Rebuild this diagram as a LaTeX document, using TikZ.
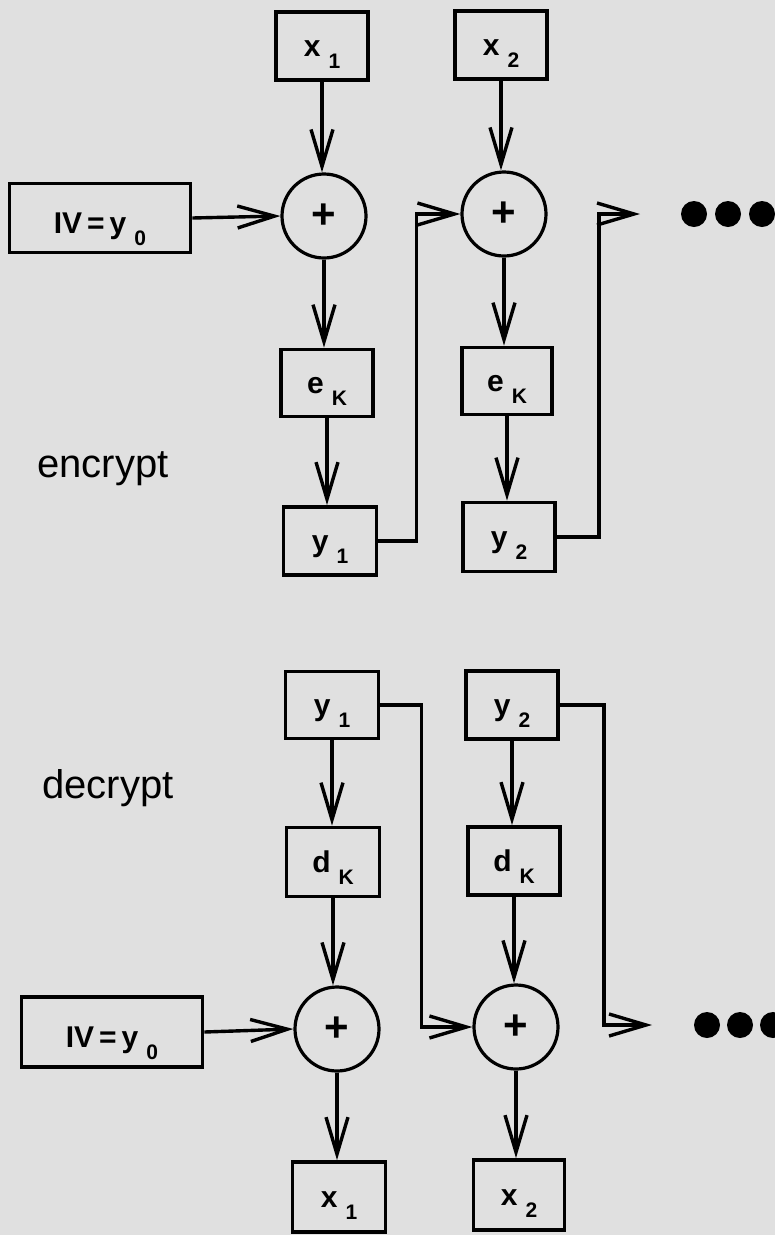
\documentclass[tikz,border=0pt]{standalone}
\usepackage{fontspec}
\setmainfont{Liberation Sans}
\usetikzlibrary{arrows.meta}
\definecolor{paper}{RGB}{224,224,224}
\newcommand\sublab[2]{#1\hspace{8pt}\raisebox{-12pt}{\fontsize{21}{21}\selectfont #2}}
\tikzset{
  blk/.style={draw, line width=3.8pt, fill=paper, minimum width=92pt, minimum height=68pt,
    inner sep=0pt, font=\fontsize{30}{30}\selectfont\bfseries, text height=20pt, text depth=0pt},
  ivblk/.style={blk, minimum width=181pt, minimum height=69pt, text height=30pt},
  xorc/.style={draw, circle, line width=3.2pt, fill=paper, minimum size=84pt, inner sep=0pt,
    font=\fontsize{42}{42}\selectfont\bfseries},
  arr/.style={line width=3.4pt, -{Straight Barb[length=37pt,width=22pt,line width=3.4pt]}},
  dotc/.style={fill=black, circle, minimum size=26pt, inner sep=0pt},
  side/.style={font=\fontsize{40}{40}\selectfont, inner sep=0pt, anchor=base west}
}
\begin{document}
\begin{tikzpicture}[x=1pt,y=-1pt]
\fill[paper] (0,0) rectangle (775,1235);
\useasboundingbox (0,0) rectangle (775,1235);
% ---------------- encrypt ----------------
\node[blk] (ex1) at (322,46) {\sublab{x}{1}};
\node[blk] (ex2) at (501,45) {\sublab{x}{2}};
\node[ivblk] (eiv) at (100,218) {IV\,=\,\sublab{y}{0}};
\node[xorc] (ep1) at (324,216) {+};
\node[xorc] (ep2) at (504,214) {+};
\node[blk, minimum height=67pt] (ee1) at (327,383) {\sublab{e}{K}};
\node[blk, minimum width=90pt, minimum height=67pt] (ee2) at (507,381) {\sublab{e}{K}};
\node[blk, minimum width=93pt] (ey1) at (330,541) {\sublab{y}{1}};
\node[blk, minimum height=69pt] (ey2) at (509,537) {\sublab{y}{2}};
\node[side] (enc) at (37,477) {encrypt};
\coordinate (eout) at (640,214);
\node[dotc] (ed1) at (694,214) {};
\node[dotc] (ed2) at (728,214) {};
\node[dotc] (ed3) at (762,214) {};

\draw[arr] (ex1.south) -- (ex1.south |- ep1.north);
\draw[arr] (ex2.south) -- (ex2.south |- ep2.north);
\draw[arr] (eiv.east) -- (ep1.west);
\draw[arr] (ep1.south) -- (ep1.south |- ee1.north);
\draw[arr] (ep2.south) -- (ep2.south |- ee2.north);
\draw[arr] (ee1.south) -- (ee1.south |- ey1.north);
\draw[arr] (ee2.south) -- (ee2.south |- ey2.north);
\draw[arr] (ey1.east) -| ([xshift=-44pt]ep2.west) -- (ep2.west);
\draw[arr] (ey2.east) -| ([xshift=-41pt]eout) -- (eout);

% ---------------- decrypt ----------------
\node[blk, minimum width=93pt, minimum height=67pt] (dy1) at (332,705) {\sublab{y}{1}};
\node[blk] (dy2) at (512,705) {\sublab{y}{2}};
\node[side] (dec) at (42,798) {decrypt};
\node[blk, minimum width=93pt, minimum height=69pt] (dd1) at (333,862) {\sublab{d}{K}};
\node[blk] (dd2) at (514,861) {\sublab{d}{K}};
\node[xorc] (dp1) at (337,1029) {+};
\node[xorc] (dp2) at (516,1027) {+};
\node[ivblk, minimum height=70pt] (div) at (112,1032) {IV\,=\,\sublab{y}{0}};
\node[blk, minimum width=93pt, minimum height=70pt] (dx1) at (339,1197) {\sublab{x}{1}};
\node[blk, minimum width=91pt, minimum height=70pt] (dx2) at (519,1195) {\sublab{x}{2}};
\coordinate (dout) at (652,1025);
\node[dotc] (dd1c) at (707,1025) {};
\node[dotc] (dd2c) at (740,1025) {};
\node[dotc] (dd3c) at (773,1025) {};

\draw[arr] (dy1.south) -- (dy1.south |- dd1.north);
\draw[arr] (dy2.south) -- (dy2.south |- dd2.north);
\draw[arr] (dd1.south) -- (dd1.south |- dp1.north);
\draw[arr] (dd2.south) -- (dd2.south |- dp2.north);
\draw[arr] (div.east) -- (dp1.west);
\draw[arr] (dp1.south) -- (dp1.south |- dx1.north);
\draw[arr] (dp2.south) -- (dp2.south |- dx2.north);
\draw[arr] (dy1.east) -| ([xshift=-51pt]dp2.west) -- (dp2.west);
\draw[arr] (dy2.east) -| ([xshift=-48pt]dout) -- (dout);
\end{tikzpicture}
\end{document}
